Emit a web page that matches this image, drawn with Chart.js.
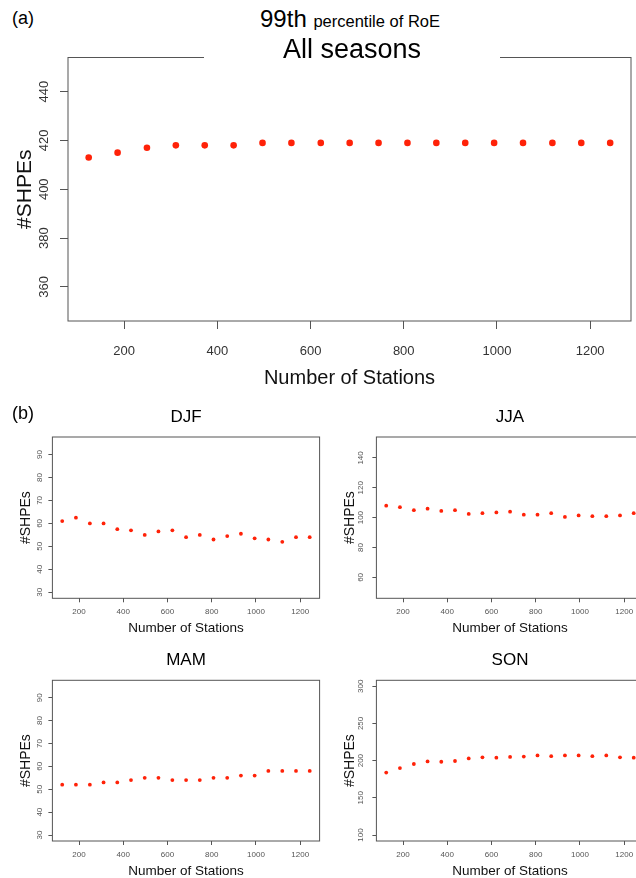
<!DOCTYPE html>
<html>
<head>
<meta charset="utf-8">
<script src="https://cdn.jsdelivr.net/npm/chart.js@4.4.1/dist/chart.umd.min.js"></script>
<style>
  html, body { margin: 0; padding: 0; overflow: hidden; background: #fff; }
  body { width: 636px; height: 878px; position: relative; font-family: "Liberation Sans", Arial, Helvetica, sans-serif; }
  canvas { position: absolute; }
  .txt { position: absolute; color: #000; white-space: nowrap; }
</style>
</head>
<body>
<canvas id="chartAll" width="636" height="360" style="left:0px;top:40px"></canvas>
<canvas id="chartDJF" width="330" height="230" style="left:0px;top:420px"></canvas>
<canvas id="chartJJA" width="330" height="230" style="left:324px;top:420px"></canvas>
<canvas id="chartMAM" width="330" height="230" style="left:0px;top:663px"></canvas>
<canvas id="chartSON" width="330" height="230" style="left:324px;top:663px"></canvas>

<div class="txt" style="left:12px;top:9px;font-size:18px;line-height:18px">(a)</div>
<div class="txt" style="left:0;width:700px;top:7px;font-size:24px;line-height:24px;text-align:center">99th <span style="font-size:16.5px">percentile of RoE</span></div>
<div class="txt" style="left:204px;width:296px;top:36px;font-size:27px;line-height:27px;text-align:center;background:#fff">All seasons</div>

<div class="txt" style="left:12px;top:404px;font-size:18px;line-height:18px">(b)</div>
<div class="txt" style="left:86px;width:200px;top:408px;font-size:17px;line-height:17px;text-align:center">DJF</div>
<div class="txt" style="left:410px;width:200px;top:408px;font-size:17px;line-height:17px;text-align:center">JJA</div>
<div class="txt" style="left:86px;width:200px;top:651px;font-size:17px;line-height:17px;text-align:center">MAM</div>
<div class="txt" style="left:410px;width:200px;top:651px;font-size:17px;line-height:17px;text-align:center">SON</div>

<script>
// number of stations used (x values, same for every panel)
const stations = [124, 186, 249, 311, 373, 435, 497, 559, 622, 684, 746, 808, 870, 932, 994, 1056, 1119, 1181, 1243];

// #SHPEs per season
const allSeasons = [413, 415, 417, 418, 418, 418, 419, 419, 419, 419, 419, 419, 419, 419, 419, 419, 419, 419, 419];
const djf = [61, 62.5, 60, 60, 57.5, 57, 55, 56.5, 57, 54, 55, 53, 54.5, 55.5, 53.5, 53, 52, 54, 54];
const jja = [108, 107, 105, 106, 104.5, 105, 102.5, 103, 103.5, 104, 102, 102, 103, 100.5, 101.5, 101, 101, 101.5, 103];
const mam = [52, 52, 52, 53, 53, 54, 55, 55, 54, 54, 54, 55, 55, 56, 56, 58, 58, 58, 58];
const son = [184, 190, 195.5, 199, 198.5, 199.5, 203, 204.5, 204, 205, 205.5, 207, 206, 207, 207, 206, 207, 204.5, 204];

// tick labels
const xTicks = [200, 400, 600, 800, 1000, 1200];
const yTicksAll = [360, 380, 400, 420, 440];
const yTicksDJF = [30, 40, 50, 60, 70, 80, 90];
const yTicksJJA = [60, 80, 100, 120, 140];
const yTicksMAM = [30, 40, 50, 60, 70, 80, 90];
const yTicksSON = [100, 150, 200, 250, 300];

// axis limits (R style, 4% extended)
const xRange = [79.6, 1287.7];
const yRangeAll = [346, 454];
const yRangeDJF = [27.4, 97.6];
const yRangeJJA = [46, 154];
const yRangeMAM = [27.4, 97.6];
const yRangeSON = [92, 308];

Chart.defaults.font.family = '"Liberation Sans", Arial, Helvetica, sans-serif';
Chart.defaults.color = '#333';

const boxColor = '#555';
const dotColor = 'rgb(255, 34, 8)';

// draws the full frame round the plot area, like R's box()
const boxPlugin = {
  id: 'rbox',
  afterDraw(chart) {
    const a = chart.chartArea;
    const ctx = chart.ctx;
    ctx.save();
    ctx.strokeStyle = boxColor;
    ctx.lineWidth = 1;
    ctx.strokeRect(a.left, a.top, a.right - a.left, a.bottom - a.top);
    ctx.restore();
  }
};

function fixedTicks(list) {
  return function(scale) {
    scale.ticks = list.map(v => ({ value: v }));
  };
}

function makeChart(id, values, yRange, yTicks, s) {
  const canvas = document.getElementById(id);
  const points = stations.map((x, i) => ({ x: x, y: values[i] }));

  return new Chart(canvas.getContext('2d'), {
    type: 'scatter',
    data: {
      datasets: [{
        data: points,
        backgroundColor: dotColor,
        borderWidth: 0,
        pointRadius: s.dot,
        pointHoverRadius: s.dot
      }]
    },
    plugins: [boxPlugin],
    options: {
      responsive: false,
      animation: false,
      devicePixelRatio: 1,
      events: [],
      layout: {
        padding: { top: s.padTop, right: s.padRight, left: 0, bottom: 0 }
      },
      plugins: {
        legend: { display: false },
        tooltip: { enabled: false }
      },
      scales: {
        x: {
          type: 'linear',
          min: xRange[0],
          max: xRange[1],
          afterBuildTicks: fixedTicks(xTicks),
          afterFit: function(scale) { scale.height = s.xHeight; },
          border: { display: false },
          grid: { drawOnChartArea: false, drawTicks: true, tickLength: s.tick, color: boxColor, tickColor: boxColor },
          ticks: {
            padding: s.xTickPad,
            maxRotation: 0,
            font: { size: s.tickFont },
            color: s.tickColor,
            callback: v => String(v)
          },
          title: {
            display: true,
            text: 'Number of Stations',
            color: '#111',
            font: { size: s.titleFont },
            padding: { top: 0, bottom: s.xTitlePad }
          }
        },
        y: {
          min: yRange[0],
          max: yRange[1],
          afterBuildTicks: fixedTicks(yTicks),
          afterFit: function(scale) { scale.width = s.yWidth; },
          border: { display: false },
          grid: { drawOnChartArea: false, drawTicks: true, tickLength: s.tick, color: boxColor, tickColor: boxColor },
          ticks: {
            padding: s.yTickPad,
            minRotation: 90,
            maxRotation: 90,
            crossAlign: 'center',
            font: { size: s.tickFont },
            color: s.tickColor,
            callback: v => String(v)
          },
          title: {
            display: true,
            text: '#SHPEs',
            color: '#111',
            font: { size: s.yTitleFont },
            padding: { top: s.yTitlePad, bottom: 0 }
          }
        }
      }
    }
  });
}

// big panel (a)
makeChart('chartAll', allSeasons, yRangeAll, yTicksAll, {
  dot: 3.3, padTop: 17.5, padRight: 5, xHeight: 79, yWidth: 68,
  tick: 8, tickFont: 13, tickColor: '#333', xTickPad: 15, yTickPad: 5,
  titleFont: 20, xTitlePad: 10, yTitleFont: 21, yTitlePad: 12.4
});

// small panels (b)
const small = {
  dot: 1.9, padTop: 17, padRight: 10.4, xHeight: 51.7, yWidth: 52.4,
  tick: 4, tickFont: 8, tickColor: '#555', xTickPad: 5, yTickPad: 4.5,
  titleFont: 13.5, xTitlePad: 14, yTitleFont: 14, yTitlePad: 17.6
};
makeChart('chartDJF', djf, yRangeDJF, yTicksDJF, small);
makeChart('chartJJA', jja, yRangeJJA, yTicksJJA, small);
makeChart('chartMAM', mam, yRangeMAM, yTicksMAM, { ...small, padTop: 17.3, xHeight: 52 });
makeChart('chartSON', son, yRangeSON, yTicksSON, { ...small, padTop: 17.3, xHeight: 52 });
</script>
</body>
</html>
